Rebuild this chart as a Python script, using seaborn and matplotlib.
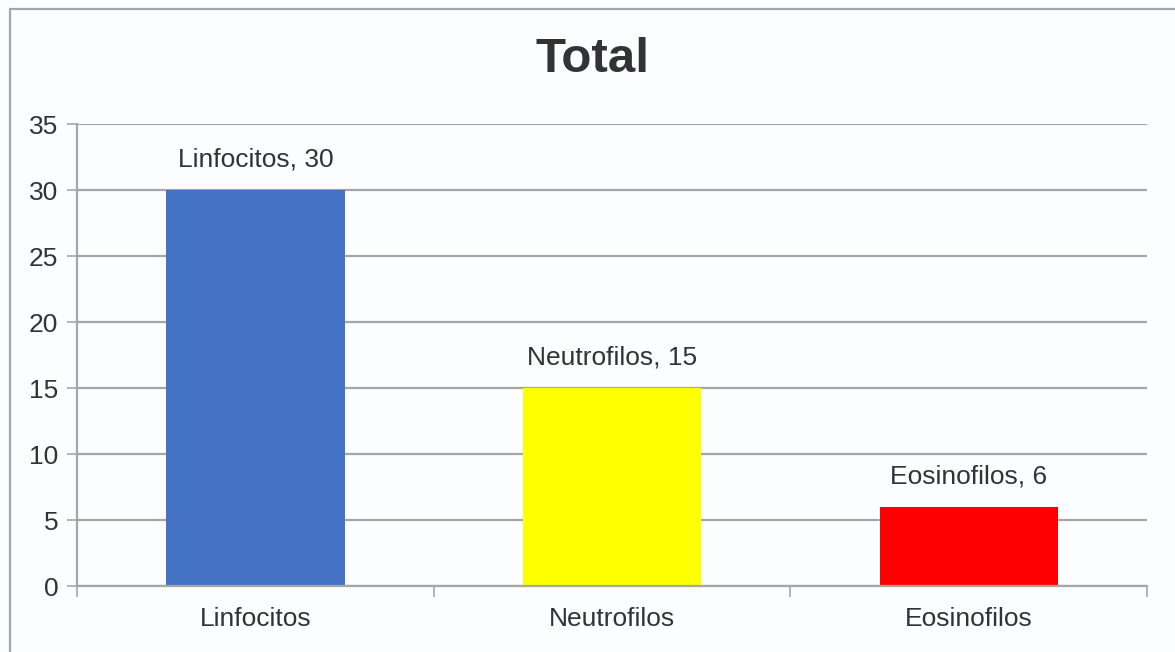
import matplotlib
matplotlib.use("Agg")
import matplotlib.pyplot as plt
from matplotlib.lines import Line2D
import seaborn as sns
import pandas as pd

categories = ["Linfocitos", "Neutrofilos", "Eosinofilos"]
values = [30, 15, 6]
colors = ["#4472C4", "#FFFF00", "#FF0000"]
y_ticks = [0, 5, 10, 15, 20, 25, 30, 35]
title = "Total"

sns.set_style("white")
plt.rcParams["font.family"] = ["Liberation Sans", "DejaVu Sans"]

bg = "#fcfdfe"
grid_c = "#a6a6a6"
text_c = "#333333"

fig = plt.figure(figsize=(11.75, 6.52), dpi=100, facecolor=bg)
ax = fig.add_axes([77 / 1175, 1 - 586 / 652, (1147 - 77) / 1175, (586 - 124) / 652])
ax.set_facecolor(bg)

df = pd.DataFrame({"cat": categories, "val": values})
sns.barplot(data=df, x="cat", y="val", hue="cat", palette=colors,
            width=0.5, dodge=False, legend=False, ax=ax, saturation=1,
            linewidth=0, edgecolor="none")

ax.set_xlim(-0.5, len(categories) - 0.5)
ax.set_ylim(0, 35)
ax.set_yticks(y_ticks)
ax.yaxis.grid(True, color=grid_c, linewidth=1.6)
ax.set_axisbelow(True)
ax.set_xlabel("")
ax.set_ylabel("")

for side in ["top", "right"]:
    ax.spines[side].set_visible(False)
for side in ["left", "bottom"]:
    ax.spines[side].set_color(grid_c)
    ax.spines[side].set_linewidth(1.6)

ax.tick_params(axis="y", which="major", length=7.5, width=1.2, color=grid_c,
               labelsize=19, labelcolor=text_c, pad=6, left=True)
ax.tick_params(axis="x", which="major", length=0, labelsize=19,
               labelcolor=text_c, pad=15)
ax.set_xticks([i - 0.5 for i in range(len(categories) + 1)], minor=True)
ax.tick_params(axis="x", which="minor", length=8, width=1.2, color=grid_c, bottom=True)

for i, (c, v) in enumerate(zip(categories, values)):
    ax.annotate(f"{c}, {v}", xy=(i, v), xytext=(0, 13), textcoords="offset points",
                ha="center", va="bottom", fontsize=19, color=text_c)

fig.text(593 / 1175, 1 - 60 / 652, title, ha="center", va="center",
         fontsize=35.5, fontweight="bold", color=text_c)

# thin frame along the left and top edges of the chart area
fig.add_artist(Line2D([10 / 1175, 10 / 1175], [0, 1 - 9 / 652],
                      transform=fig.transFigure, color=grid_c, linewidth=1.6))
fig.add_artist(Line2D([10 / 1175, 1], [1 - 9 / 652, 1 - 9 / 652],
                      transform=fig.transFigure, color=grid_c, linewidth=1.6))

fig.savefig("out.png", dpi=100, facecolor=bg)
